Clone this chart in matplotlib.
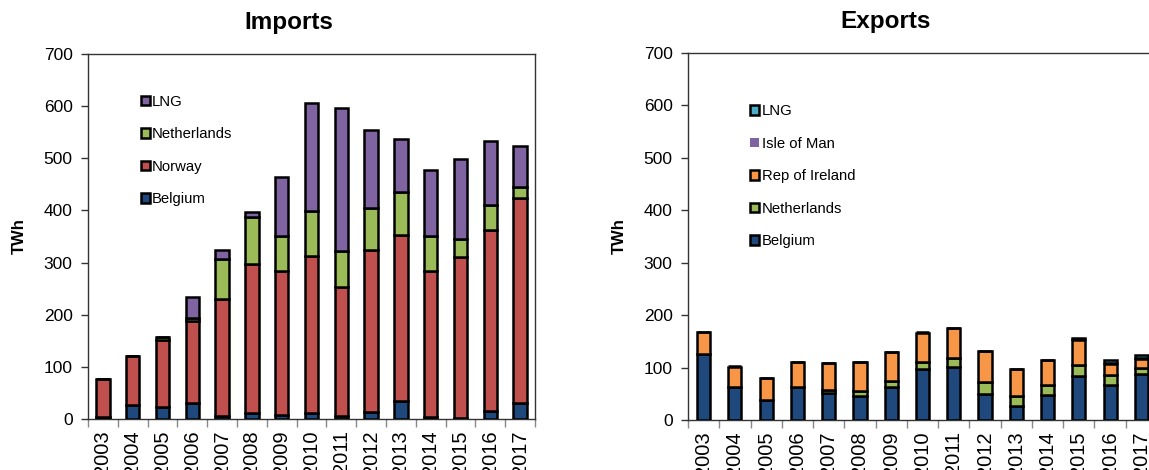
import numpy as np
import matplotlib.pyplot as plt
from matplotlib.ticker import FixedLocator, NullFormatter

plt.rcParams['font.family'] = ['Liberation Sans', 'DejaVu Sans']

# ---------- Data (TWh) ----------

years = [str(y) for y in range(2003, 2018)]

imp_belgium = [4, 26, 23, 30, 6, 11, 8, 12, 5, 14, 35, 4, 1, 15, 30]
imp_norway = [72, 94, 129, 157, 224, 286, 275, 300, 248, 311, 318, 279, 309, 347, 393]
imp_netherlands = [0, 1, 5, 7, 77, 91, 68, 86, 69, 79, 82, 68, 36, 48, 21]
imp_lng = [0, 0, 0, 40, 17, 9, 114, 208, 275, 150, 102, 127, 152, 123, 79]

exp_belgium = [126, 62, 38, 62, 51, 46, 62, 97, 101, 50, 27, 47, 84, 66, 87]
exp_netherlands = [0, 0, 0, 0, 6, 9, 13, 14, 17, 22, 18, 19, 21, 19, 12]
exp_ireland = [41, 40, 42, 48, 51, 55, 54, 55, 57, 59, 52, 48, 48, 22, 18]
exp_iom = [1, 1, 1, 1, 1, 1, 1, 1, 1, 1, 1, 1, 1, 1, 1]
exp_lng = [0, 0, 0, 0, 0, 0, 0, 0, 0, 0, 0, 0, 3, 6, 6]

# ---------- Colours ----------

c_belgium = '#1F497D'
c_norway = '#C0504D'
c_netherlands = '#9BBB59'
c_lng_imp = '#8064A2'
c_ireland = '#F79646'
c_iom = '#8064A2'
c_lng_exp = '#4BACC6'


def stacked(ax, series, labels, colors, edges, width):
    x = np.arange(len(years))
    bottom = np.zeros(len(years))
    for vals, lab, col, ec in zip(series, labels, colors, edges):
        vals = np.array(vals, dtype=float)
        ax.bar(x, vals, width, bottom=bottom, color=col, label=lab,
               edgecolor=ec, linewidth=1.8 if ec != 'none' else 0, zorder=3)
        bottom += vals
    return x


def style_axes(ax, title, title_x):
    ax.set_xlim(-0.5, len(years) - 0.5)
    ax.set_ylim(0, 700)
    ax.set_yticks(range(0, 701, 100))
    ax.set_xticks(np.arange(len(years)))
    ax.set_xticklabels(years, rotation=90, fontsize=14.5, va='top')
    ax.xaxis.set_minor_locator(FixedLocator(np.arange(-0.5, len(years), 1)))
    ax.xaxis.set_minor_formatter(NullFormatter())
    ax.tick_params(axis='x', which='major', length=0, pad=8)
    ax.tick_params(axis='x', which='minor', length=6, color='#888888', width=1)
    ax.tick_params(axis='y', labelsize=12.5, length=5, width=1, color='#333333', pad=6)
    for sp in ax.spines.values():
        sp.set_color('#333333')
        sp.set_linewidth(1.0)
    ax.set_ylabel('TWh', fontsize=12, fontweight='bold', labelpad=12)
    ax.set_title(title, fontsize=17.5, fontweight='bold', pad=18, x=title_x)


fig = plt.figure(figsize=(11.49, 4.70), dpi=100)

# ---------- Imports ----------

ax1 = fig.add_axes([88 / 1149, 51 / 470, 447 / 1149, 365 / 470])
stacked(ax1,
        [imp_belgium, imp_norway, imp_netherlands, imp_lng],
        ['Belgium', 'Norway', 'Netherlands', 'LNG'],
        [c_belgium, c_norway, c_netherlands, c_lng_imp],
        ['black'] * 4, 0.45)
style_axes(ax1, 'Imports', 0.45)
h, l = ax1.get_legend_handles_labels()
ax1.legend(h[::-1], l[::-1], loc='upper left', bbox_to_anchor=(0.118, 0.888),
           frameon=False, fontsize=10.7, handlelength=0.6, handleheight=0.6,
           handletextpad=0.15, labelspacing=1.24, borderaxespad=0, borderpad=0)

# ---------- Exports ----------

ax2 = fig.add_axes([688 / 1149, 50 / 470, 469 / 1149, 367 / 470])
stacked(ax2,
        [exp_belgium, exp_netherlands, exp_ireland, exp_iom, exp_lng],
        ['Belgium', 'Netherlands', 'Rep of Ireland', 'Isle of Man', 'LNG'],
        [c_belgium, c_netherlands, c_ireland, c_iom, c_lng_exp],
        ['black', 'black', 'black', 'none', 'black'], 0.42)
style_axes(ax2, 'Exports', 0.422)
h, l = ax2.get_legend_handles_labels()
ax2.legend(h[::-1], l[::-1], loc='upper left', bbox_to_anchor=(0.133, 0.86),
           frameon=False, fontsize=10.7, handlelength=0.6, handleheight=0.6,
           handletextpad=0.15, labelspacing=1.24, borderaxespad=0, borderpad=0)

fig.savefig('out.png', dpi=100)
